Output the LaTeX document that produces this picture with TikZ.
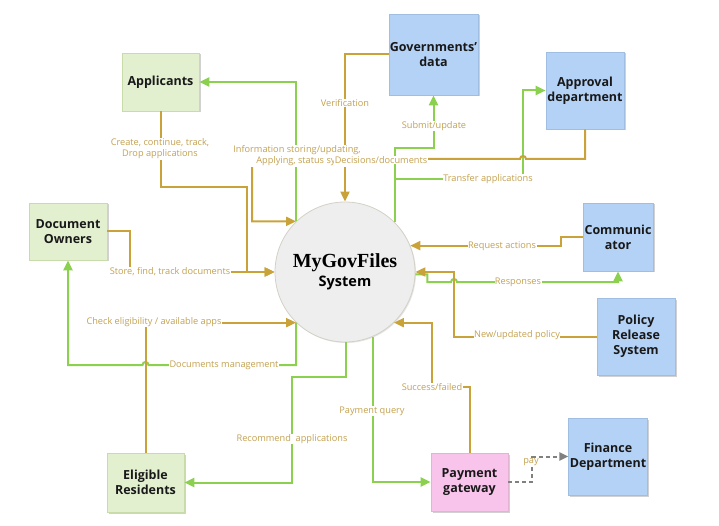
\documentclass[tikz,border=0pt]{standalone}
\usepackage{fontspec}
\setmainfont{Open Sans}
\newfontfamily\timesf{Liberation Serif}
\usetikzlibrary{arrows.meta,shadows}
\definecolor{goldl}{RGB}{201,163,58}
\definecolor{greenl}{RGB}{140,208,80}
\definecolor{labelc}{RGB}{196,161,80}
\definecolor{gfill}{RGB}{226,240,208}
\definecolor{gbord}{RGB}{200,220,170}
\definecolor{bfill}{RGB}{180,210,246}
\definecolor{bbord}{RGB}{160,190,225}
\definecolor{pfill}{RGB}{249,196,236}
\definecolor{pbord}{RGB}{225,180,210}
\definecolor{cfill}{RGB}{238,238,238}
\definecolor{cbord}{RGB}{212,208,198}
\definecolor{greyl}{RGB}{128,128,128}
\begin{document}
\begin{tikzpicture}[x=1pt,y=-1pt,
  box/.style={draw=#1, line width=0.7pt, align=center, inner sep=1pt,
    font=\bfseries\fontsize{12.5}{15}\selectfont, text=black!90,
    drop shadow={shadow xshift=1.5pt, shadow yshift=-1.5pt, fill=black, opacity=0.18}},
  gbox/.style={box=gbord, fill=gfill},
  bbox/.style={box=bbord, fill=bfill},
  pbox/.style={box=pbord, fill=pfill},
  gold/.style={draw=goldl, line width=2pt},
  grn/.style={draw=greenl, line width=2pt},
  tip/.style={-{Triangle[length=10pt,width=9pt]}},
  lbl/.style={fill=white, text=labelc, font=\fontsize{9.2}{11}\selectfont, inner sep=0.5pt, align=center},
]
\useasboundingbox (0,0) rectangle (719,526);

% entities
\node[gbox, minimum width=77pt, minimum height=58pt] (app) at (160.5,82) {Applicants};
\node[gbox, minimum width=78pt, minimum height=57pt] (own) at (68,231.5) {Document\\Owners};
\node[gbox, minimum width=77pt, minimum height=59pt] (elig) at (145.5,482.5) {Eligible\\Residents};
\node[bbox, minimum width=81pt, minimum height=81pt] (gov) at (433.5,54.5) {Governments'\\data};
\node[bbox, minimum width=78pt, minimum height=77pt] (appr) at (585,90.5) {Approval\\department};
\node[bbox, minimum width=70pt, minimum height=68pt] (comm) at (618,237) {Communic\\ator};
\node[bbox, minimum width=78pt, minimum height=77pt] (pol) at (636,336.5) {Policy\\Release\\System};
\node[pbox, minimum width=77pt, minimum height=58pt] (pay) at (469.5,482) {Payment\\gateway};
\node[bbox, minimum width=78pt, minimum height=77pt] (fin) at (608,456.5) {Finance\\Department};
\node[circle, draw=cbord, fill=cfill, line width=0.8pt, minimum size=140pt, inner sep=0pt, align=center,
  drop shadow={shadow xshift=1pt, shadow yshift=-1pt, fill=black, opacity=0.1}] (sys) at (345,272)
  {{\timesf\bfseries\fontsize{20}{22}\selectfont MyGovFiles}\\[3pt]{\bfseries\fontsize{14.5}{17}\selectfont System}};

% helper coordinates
\coordinate (tb) at (sys.45 |- 0,179);

% green connectors (drawn first)
\draw[grn, tip] (sys.134) |- (app.east);
\draw[grn, tip] (sys.45) |- (433.5,148) -- (gov.south);
\draw[grn, tip] (tb) -- (523,179) |- (appr.west);
\draw[grn, tip] (sys.-2) -- ++(12,0) |- (451,282) .. controls (451,278) and (457,278) .. (457,282) -| (comm.south);
\draw[grn, tip] (sys.-67) |- (pay.west);
\draw[grn, tip] (sys.-89) |- (292,377) |- (elig.east);
\draw[grn, tip] (sys.-134) |- (148.5,365) .. controls (148.5,361) and (142.5,361) .. (142.5,365) -| (own.south);

% gold connectors
\draw[gold, tip] (app.south) |- (247,187) |- (sys.west);
\draw[gold, tip] (own.east) -| (130,272) -- (sys.west);
\draw[gold, tip] (appr.south) |- (526,159) .. controls (526,155) and (520,155) .. (520,159)
  -- (299,159) .. controls (299,155) and (293,155) .. (293,159) -- (252,159) |- (sys.134);
\draw[gold, tip] (gov.west) -| (sys.north);
\draw[gold, tip] (comm.west) -- (561,237) |- (sys.22);
\draw[gold, tip] (pol.west) -| (454,272) -- (sys.east);
\draw[gold, tip] (pay.north) |- (432,387) |- (sys.-46);
\draw[gold, tip] (elig.north) |- (sys.-134);

% dashed payment link
\draw[draw=greyl, line width=2pt, dashed, dash pattern=on 4pt off 3pt, -{Triangle[length=9pt,width=8pt]}]
  (pay.east) -- (532,482) |- (fin.west);

% labels
\node[lbl] at (160,149) {Create, continue, track,\\Drop applications};
\node[lbl] at (170,272) {Store, find, track documents};
\node[lbl] at (345,103) {Verification};
\node[lbl] at (434,126) {Submit/update};
\node[lbl] at (297,156) {Information storing/updating,\\Applying, status sy.};
\node[lbl] at (381,160) {Decisions/documents};
\node[lbl] at (488,179) {Transfer applications};
\node[lbl] at (502,246) {Request actions};
\node[lbl] at (518,282) {Responses};
\node[lbl] at (517,335) {New/updated policy};
\node[lbl] at (432,387) {Success/failed};
\node[lbl] at (372,411) {Payment query};
\node[lbl] at (292,439) {Recommend\ \ applications};
\node[lbl] at (224,365) {Documents management};
\node[lbl] at (154,322) {Check eligibility / available apps};
\node[lbl] at (531,462) {pay};
\end{tikzpicture}
\end{document}
